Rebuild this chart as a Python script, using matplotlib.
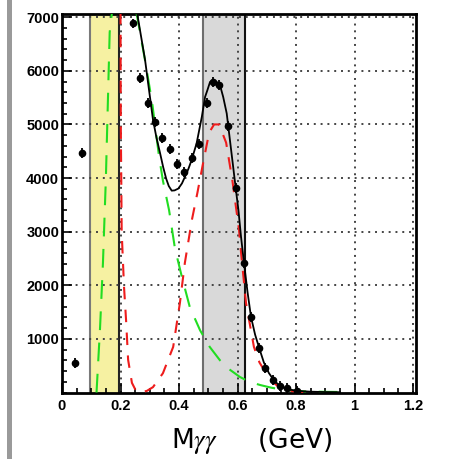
import matplotlib
matplotlib.use("Agg")
import matplotlib.pyplot as plt
import numpy as np

plt.rcParams['font.family'] = ['Liberation Sans', 'DejaVu Sans']
plt.rcParams['mathtext.fontset'] = 'stix'

# data points (M_gg in GeV, events)
pts_x = [0.044, 0.068, 0.243, 0.267, 0.294, 0.318, 0.342, 0.369, 0.393, 0.417,
         0.444, 0.468, 0.496, 0.516, 0.537, 0.568, 0.595, 0.622, 0.646, 0.674,
         0.694, 0.721, 0.745, 0.769, 0.803]
pts_y = [553, 4464, 6886, 5863, 5397, 5044, 4745, 4541, 4261, 4112,
         4373, 4634, 5397, 5789, 5733, 4969, 3813, 2416, 1409, 833,
         460, 237, 125, 88, 32]

# total fit (black)
fit_x = [0.256, 0.27, 0.284, 0.298, 0.311, 0.323, 0.335, 0.346, 0.356, 0.365,
         0.375, 0.385, 0.398, 0.41, 0.42, 0.432, 0.443, 0.46, 0.478, 0.489,
         0.497, 0.506, 0.515, 0.529, 0.54, 0.551, 0.563, 0.574, 0.585, 0.594,
         0.603, 0.612, 0.622, 0.634, 0.646, 0.66, 0.674, 0.69, 0.707, 0.724,
         0.741, 0.76, 0.786, 0.82, 0.85, 0.9, 0.95]
fit_y = [7100, 6650, 6200, 5620, 5090, 4750, 4470, 4200, 3990, 3850,
         3765, 3770, 3805, 3900, 4020, 4170, 4335, 4645, 5143, 5512,
         5640, 5792, 5826, 5792, 5733, 5512, 5206, 4708, 4211, 3800,
         3404, 2900, 2420, 1880, 1410, 1080, 830, 560, 364, 230,
         140, 85, 47, 25, 15, 8, 5]

# red dashed component
red_x = [0.2, 0.201, 0.204, 0.212, 0.219, 0.226, 0.239, 0.252, 0.267, 0.29,
         0.311, 0.345, 0.38, 0.403, 0.42, 0.444, 0.463, 0.48, 0.503, 0.52,
         0.537, 0.561, 0.582, 0.605, 0.612, 0.629, 0.656, 0.675, 0.697, 0.72,
         0.741, 0.78, 0.81, 0.86]
red_y = [7100, 5000, 3000, 1970, 1350, 610, 180, 40, 0, 30,
         100, 360, 850, 1670, 2420, 3220, 3730, 4215, 4850, 5000,
         5000, 4660, 3970, 3040, 2610, 1670, 850, 560, 364, 200,
         103, 30, 10, 0]

# green dashed component (two branches)
grn1_x = [0.118, 0.13, 0.14, 0.15, 0.163, 0.171]
grn1_y = [0, 1200, 2420, 4000, 6720, 7100]
grn2_x = [0.254, 0.284, 0.308, 0.332, 0.345, 0.366, 0.386, 0.41, 0.437, 0.472,
          0.505, 0.54, 0.575, 0.608, 0.64, 0.677, 0.715, 0.756, 0.8, 0.85, 0.9, 0.945]
grn2_y = [7100, 6190, 5410, 4390, 3950, 3400, 2690, 2150, 1590, 1160,
          850, 600, 420, 290, 200, 140, 90, 50, 28, 17, 12, 10]

yellow_band = (0.0957, 0.195)
gray_band = (0.483, 0.627)

fig = plt.figure(figsize=(4.5, 4.59), dpi=100)
ax = fig.add_axes([62/450, 1-392.5/459, (416-62)/450, (392.5-14)/459])

ax.axvspan(*yellow_band, facecolor='#f6f1a2', edgecolor='none', zorder=1)
ax.axvline(yellow_band[0], color='#7a7a7a', lw=1.5, zorder=1.2)
ax.axvline(yellow_band[1], color='#222222', lw=1.5, zorder=1.2)
ax.axvspan(*gray_band, facecolor='#d9d9d9', edgecolor='none', zorder=1)
ax.axvline(gray_band[0], color='#6e6e6e', lw=1.5, zorder=1.2)
ax.axvline(gray_band[1], color='#111111', lw=1.5, zorder=1.2)

ax.set_axisbelow('line')
ax.grid(True, color='#444444', linestyle=(0, (1, 2.5)), linewidth=1.4)

ax.plot(grn1_x, grn1_y, color='#22dd22', lw=1.5, dashes=(9, 6), zorder=3)
ax.plot(grn2_x, grn2_y, color='#22dd22', lw=1.5, dashes=(9, 6), zorder=3)
ax.plot(red_x, red_y, color='#ee1c1c', lw=1.5, dashes=(6, 5), zorder=3)
ax.plot(fit_x, fit_y, color='black', lw=1.3, zorder=4)
ax.errorbar(pts_x, pts_y, xerr=0.008, yerr=90, fmt='o', color='black',
            ms=4.5, elinewidth=1.3, capsize=0, zorder=5)

ax.set_xlim(0, 1.21)
ax.set_ylim(0, 7060)
ax.set_xticks([0, 0.2, 0.4, 0.6, 0.8, 1.0, 1.2])
ax.set_xticklabels(['0', '0.2', '0.4', '0.6', '0.8', '1', '1.2'])
ax.set_xticks(np.arange(0, 1.21, 0.05), minor=True)
ax.set_yticks([1000, 2000, 3000, 4000, 5000, 6000, 7000])
ax.set_yticks(np.arange(0, 7001, 200), minor=True)
ax.tick_params(which='both', direction='in', top=False, right=False,
               labelsize=10.5, width=1.2)
ax.tick_params(axis='x', pad=5)
ax.tick_params(axis='y', pad=2)
ax.tick_params(which='major', length=7)
ax.tick_params(which='minor', length=3.5)
for lab in ax.get_xticklabels() + ax.get_yticklabels():
    lab.set_fontweight('bold')
for s in ax.spines.values():
    s.set_linewidth(2)

ax.set_xlabel('M$\\gamma\\gamma$     (GeV)', fontsize=19, family='DejaVu Sans')
ax.xaxis.set_label_coords(0.537, -0.088)

# slide border on the left
fig.add_artist(plt.Rectangle((7/450, 0), 5/450, 1, transform=fig.transFigure,
                             color='#9a9a9a', lw=0))

fig.savefig('out.png', dpi=100)
